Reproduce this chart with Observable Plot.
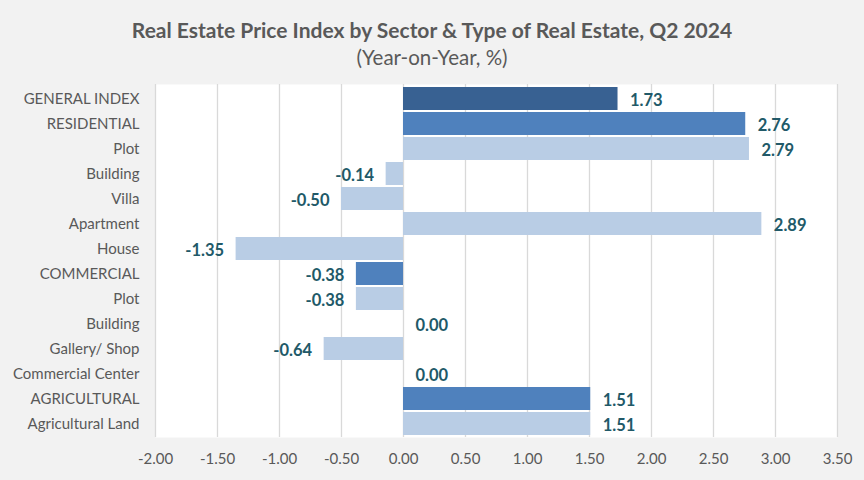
<!DOCTYPE html>
<html>
<head>
<meta charset="utf-8">
<script src="https://cdn.jsdelivr.net/npm/d3@7"></script>
<script src="https://cdn.jsdelivr.net/npm/@observablehq/plot@0.6"></script>
<style>
  html, body { margin: 0; padding: 0; background: #f2f2f2; }
  #wrap { width: 864px; height: 480px; background: #f2f2f2; font-family: Lato, "Open Sans", sans-serif; }
  #title { height: 44px; line-height: 24px; padding-top: 18px; box-sizing: border-box; text-align: center; font-weight: bold; font-size: 21px; color: #595959; }
  #subtitle { height: 26px; text-align: center; font-size: 20.5px; color: #595959; line-height: 26px; }
</style>
</head>
<body>
<div id="wrap">
  <div id="title">Real Estate Price Index by Sector &amp; Type of Real Estate, Q2 2024</div>
  <div id="subtitle">(Year-on-Year, %)</div>
  <div id="chart"></div>
</div>
<script>
const categories = ["GENERAL INDEX", "RESIDENTIAL", "Plot", "Building", "Villa", "Apartment", "House",
  "COMMERCIAL", "Plot", "Building", "Gallery/ Shop", "Commercial Center", "AGRICULTURAL", "Agricultural Land"];
const values = [1.73, 2.76, 2.79, -0.14, -0.50, 2.89, -1.35, -0.38, -0.38, 0.00, -0.64, 0.00, 1.51, 1.51];
const levels = ["general", "sector", "type", "type", "type", "type", "type",
  "sector", "type", "type", "type", "type", "sector", "type"];
const xTicks = [-2, -1.5, -1, -0.5, 0, 0.5, 1, 1.5, 2, 2.5, 3, 3.5];

const colors = { general: "#386192", sector: "#4f81bd", type: "#b9cde5" };
const data = categories.map((name, i) => ({ id: i, name, value: values[i], level: levels[i] }));
const ids = data.map(d => d.id);

const plot = Plot.plot({
  width: 864,
  height: 410,
  marginTop: 14,
  marginBottom: 43,
  marginLeft: 155,
  marginRight: 27,
  style: { fontFamily: "Lato, 'Open Sans', sans-serif", background: "transparent" },
  x: { domain: [-2, 3.5], ticks: xTicks, tickFormat: d => d.toFixed(2), label: null, tickSize: 0, tickPadding: 16 },
  y: { domain: ids, padding: 0.09, label: null, tickSize: 0, tickPadding: 16, tickFormat: i => categories[i] },
  marks: [
    Plot.frame({ fill: "white", stroke: null }),
    Plot.gridX(xTicks, { stroke: "#d9d9d9", strokeOpacity: 1, strokeWidth: 1.3 }),
    Plot.barX(data, { x1: 0, x2: "value", y: "id", fill: d => colors[d.level] }),
    Plot.axisX({ ticks: xTicks, tickFormat: d => d.toFixed(2), tickSize: 0, tickPadding: 16, fontSize: 15, fill: "#595959", label: null }),
    Plot.axisY({ tickSize: 0, tickPadding: 16, fontSize: 15, fill: "#595959", label: null, tickFormat: i => categories[i] }),
    Plot.text(data.filter(d => d.value >= 0), { x: "value", y: "id", text: d => d.value.toFixed(2), textAnchor: "start", dx: 12, dy: 2, fontWeight: "bold", fontSize: 16.5, fill: "#215968" }),
    Plot.text(data.filter(d => d.value < 0), { x: "value", y: "id", text: d => d.value.toFixed(2), textAnchor: "end", dx: -12, dy: 2, fontWeight: "bold", fontSize: 16.5, fill: "#215968" })
  ]
});
document.getElementById("chart").appendChild(plot);
</script>
</body>
</html>
